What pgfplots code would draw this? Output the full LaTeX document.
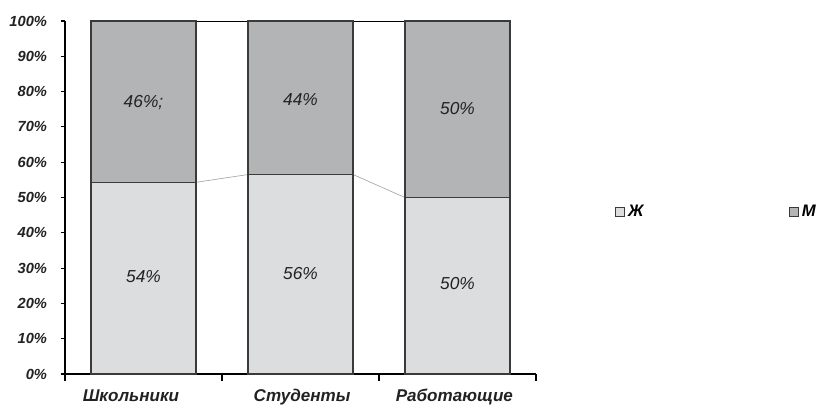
\documentclass[border=0pt]{standalone}
\usepackage{pgfplots}
\pgfplotsset{compat=1.18}
\usepackage{fontspec}
\setmainfont{Liberation Sans}
\definecolor{cF}{HTML}{DCDDDF}
\definecolor{cM}{HTML}{B3B4B6}
\definecolor{edge}{HTML}{3A3A3A}
\definecolor{txt}{HTML}{222222}
\begin{document}
\begin{tikzpicture}
\useasboundingbox (-48.75pt,-30pt) rectangle (569.25pt,280.5pt);
\begin{axis}[
  at={(0pt,0pt)}, anchor=south west,
  scale only axis, width=353.25pt, height=264.75pt,
  xmin=-0.5, xmax=2.5, ymin=0, ymax=100,
  hide axis, clip=false,
]
\addplot[draw=gray!70, line width=0.5pt] coordinates {(0.335,54.3) (0.665,56.5)};
\addplot[draw=gray!70, line width=0.5pt] coordinates {(1.335,56.5) (1.665,50)};
\addplot[draw=black, line width=0.6pt] coordinates {(0.335,100) (0.665,100)};
\addplot[draw=black, line width=0.6pt] coordinates {(1.335,100) (1.665,100)};
\end{axis}
\begin{axis}[
  at={(0pt,0pt)}, anchor=south west,
  scale only axis, width=353.25pt, height=264.75pt,
  ybar stacked, bar width=0.67,
  xmin=-0.5, xmax=2.5, ymin=0, ymax=100,
  axis x line*=bottom, axis y line*=left,
  axis line style={black, line width=0.8pt},
  xtick={-0.08,1.01,1.98}, xticklabels={Школьники,Студенты,Работающие},
  major x tick style={draw=none},
  minor xtick={-0.5,0.5,1.5,2.5},
  minor x tick style={black, line width=0.8pt},
  minor tick length=5pt,
  ytick={0,10,...,100},
  yticklabel={\pgfmathprintnumber{\tick}\%},
  /pgf/number format/assume math mode=true,
  y tick style={black, line width=0.8pt},
  major tick length=3pt,
  tick align=outside,
  y tick label style={font=\fontsize{11}{13}\selectfont\bfseries\itshape, text=txt, xshift=-7pt},
  x tick label style={font=\fontsize{12.8}{15}\selectfont\bfseries\itshape, text=txt, yshift=-5pt},
  legend columns=2,
  legend style={at={(rel axis cs:1.159,0.459)}, anchor=west, draw=none, fill=none,
    font=\fontsize{12.5}{15}\selectfont\bfseries\itshape,
    /tikz/every even column/.append style={column sep=107pt}},
  area legend,
  legend image post style={xscale=0.4, yscale=1.2},
  clip=false,
]
\addplot[fill=cF, draw=edge, line width=0.9pt] coordinates {(0,54.3) (1,56.5) (2,50)};
\addplot[fill=cM, draw=edge, line width=0.9pt] coordinates {(0,45.7) (1,43.5) (2,50)};
\legend{Ж,М}
\end{axis}
\begin{axis}[
  at={(0pt,0pt)}, anchor=south west,
  scale only axis, width=353.25pt, height=264.75pt,
  xmin=-0.5, xmax=2.5, ymin=0, ymax=100,
  hide axis, clip=false,
]
\node[font=\fontsize{13}{15}\selectfont\itshape, text=txt] at (axis cs:0,27.5) {54\%};
\node[font=\fontsize{13}{15}\selectfont\itshape, text=txt] at (axis cs:0,77) {46\%;};
\node[font=\fontsize{13}{15}\selectfont\itshape, text=txt] at (axis cs:1,28.5) {56\%};
\node[font=\fontsize{13}{15}\selectfont\itshape, text=txt] at (axis cs:1,77.8) {44\%};
\node[font=\fontsize{13}{15}\selectfont\itshape, text=txt] at (axis cs:2,25.5) {50\%};
\node[font=\fontsize{13}{15}\selectfont\itshape, text=txt] at (axis cs:2,75.3) {50\%};
\end{axis}
\end{tikzpicture}
\end{document}
